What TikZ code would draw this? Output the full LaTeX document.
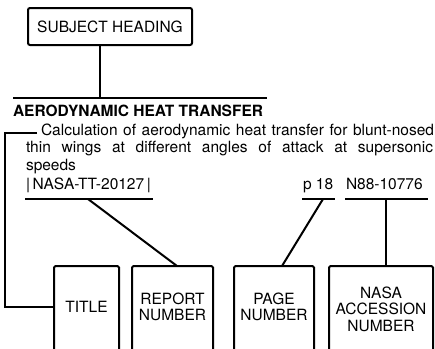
\documentclass[tikz,border=0pt]{standalone}
\usepackage{fontspec}
\setmainfont{TeX Gyre Heros}
\begin{document}
\begin{tikzpicture}[x=1pt,y=-1pt,line width=2pt,
  lbl/.style={font=\fontsize{15.5}{16.5}\selectfont, align=center, inner sep=0pt},
  boxn/.style={lbl, minimum height=80pt},
  txt/.style={font=\fontsize{15.5}{17}\selectfont, inner sep=0pt, anchor=base west},
  side/.style={rounded corners=1.5pt}]
\useasboundingbox (0,0) rectangle (435,348);
\clip (0,0) rectangle (435,348);
% subject heading
\node[draw, rounded corners=2pt, minimum width=164pt, minimum height=37pt, lbl] (subj) at (110,26.5) {SUBJECT HEADING};
\coordinate (barL) at (13,98);
\coordinate (barR) at (267,98);
\coordinate (barJ) at (100,98);
\draw (barL) -- (barR);
\draw (subj.south -| barJ) -- (barJ);
% entry text
\node[txt, font=\fontsize{15.5}{17}\selectfont\bfseries] (head) at (12,116) {AERODYNAMIC HEAT TRANSFER};
\node[txt] (l1) at (40,135) {\makebox[393pt][s]{Calculation of aerodynamic heat transfer for blunt-nosed}};
\node[txt] (l2) at (25,152.5) {\makebox[407pt][s]{thin wings at different angles of attack at supersonic}};
\node[txt] (l3) at (25,170) {speeds};
\node[txt] (rep) at (25,189) {|\,NASA-TT-20127\,|};
\node[txt] (pg) at (302,189) {p 18};
\node[txt] (acc) at (345,189) {N88-10776};
% underlines
\coordinate (u1a) at (25,199);  \coordinate (u1b) at (153,199); \coordinate (u1j) at (88,199);
\coordinate (u2a) at (302,199); \coordinate (u2b) at (335,199); \coordinate (u2j) at (323,199);
\coordinate (u3a) at (345,199); \coordinate (u3b) at (428,199); \coordinate (u3j) at (386,199);
\draw (u1a) -- (u1b);
\draw (u2a) -- (u2b);
\draw (u3a) -- (u3b);
% boxes
\node[boxn, minimum width=63pt] (title) at (86.5,307) {TITLE};
\node[boxn, minimum width=79pt] (report) at (172.5,307) {REPORT\\NUMBER};
\node[boxn, minimum width=78pt] (page) at (274,307) {PAGE\\NUMBER};
\node[boxn, minimum width=102pt, minimum height=84pt] (nasa) at (381,309) {NASA\\ACCESSION\\NUMBER};
\foreach \b in {title,report,page,nasa}{
  \draw[side] ([yshift=-10pt]\b.south west) |- (\b.north east) -- ([yshift=-10pt]\b.south east);
}
% connectors
\coordinate (bk) at (5,133);
\coordinate (c1) at (37,133);
\draw (c1) -- (bk) |- (title.west);
\draw (u1j) -- ([xshift=4.5pt]report.north);
\draw (u2j) -- ([xshift=8pt]page.north);
\draw (u3j) -- (nasa.north -| u3j);
\end{tikzpicture}
\end{document}
